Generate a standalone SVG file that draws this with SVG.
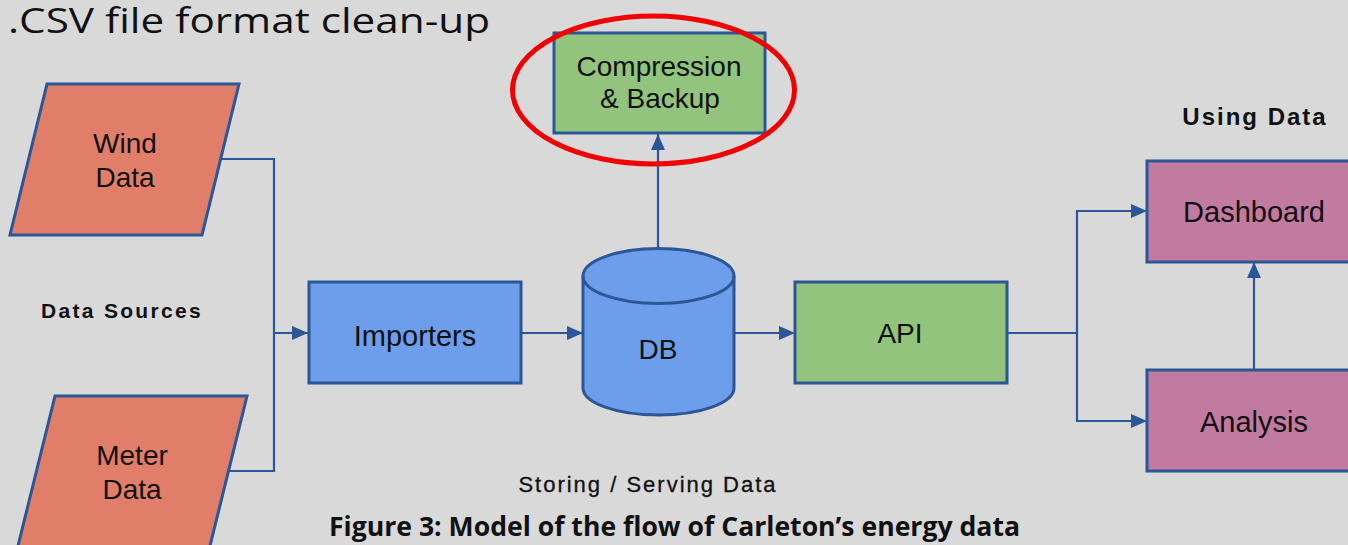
<svg xmlns="http://www.w3.org/2000/svg" width="1348" height="545" viewBox="0 0 1348 545">
<style>
.node{stroke:#2b5797;stroke-width:3}
.src{fill:#e07e6a}
.blue{fill:#6d9eeb}
.green{fill:#93c47d}
.pink{fill:#c27ba0}
.lbl{font-family:"Liberation Sans",Arial,sans-serif;font-size:28px;fill:#111;text-anchor:middle}
.big{font-size:29px}
.sec{font-family:"Liberation Sans",Arial,sans-serif;font-weight:bold;fill:#111;text-anchor:middle}
.conn{fill:none;stroke:#2b5797;stroke-width:2.2}
</style>
<defs>
<marker id="ah" markerWidth="16" markerHeight="14" refX="16" refY="7" orient="auto" markerUnits="userSpaceOnUse">
<path d="M0,0 L16,7 L0,14 z" fill="#2b5797"/>
</marker>
</defs>
<rect width="1348" height="545" fill="#d9d9d9"/>
<text x="8" y="33" font-family="'Open Sans',sans-serif" font-size="35" fill="#111" textLength="482" lengthAdjust="spacingAndGlyphs">.CSV file format clean-up</text>

<g id="connectors">
<polyline class="conn" points="221,159 274,159 274,471 229,471"/>
<line class="conn" x1="274" y1="333" x2="308" y2="333" marker-end="url(#ah)"/>
<line class="conn" x1="521" y1="333" x2="583" y2="333" marker-end="url(#ah)"/>
<line class="conn" x1="658" y1="248" x2="658" y2="134" marker-end="url(#ah)"/>
<line class="conn" x1="734" y1="333" x2="795" y2="333" marker-end="url(#ah)"/>
<polyline class="conn" points="1007,333 1077,333"/>
<polyline class="conn" points="1140,211 1077,211 1077,421 1140,421"/>
<line class="conn" x1="1077" y1="211" x2="1147" y2="211" marker-end="url(#ah)"/>
<line class="conn" x1="1077" y1="421" x2="1147" y2="421" marker-end="url(#ah)"/>
<line class="conn" x1="1254" y1="370" x2="1254" y2="262" marker-end="url(#ah)"/>
</g>

<g id="wind">
<polygon class="node src" points="47,84 239,84 202,235 10,235"/>
<text class="lbl" x="125" y="153">Wind</text>
<text class="lbl" x="125" y="187">Data</text>
</g>
<g id="meter">
<polygon class="node src" points="55,396 247,396 209,550 17,550"/>
<text class="lbl" x="132" y="465">Meter</text>
<text class="lbl" x="132" y="499">Data</text>
</g>
<text class="sec" x="122" y="318" font-size="21" letter-spacing="2.3">Data Sources</text>

<g id="importers">
<rect class="node blue" x="309" y="282" width="212" height="101"/>
<text class="lbl big" x="415" y="346">Importers</text>
</g>
<g id="db">
<path class="node blue" d="M583,276 L583,388 A75.5,27 0 0 0 734,388 L734,276 A75.5,27.5 0 0 0 583,276 Z"/>
<path class="node" fill="none" d="M583,276 A75.5,27.5 0 0 0 734,276"/>
<text class="lbl" x="658" y="359">DB</text>
</g>
<g id="compression">
<rect class="node green" x="554" y="33" width="211" height="100"/>
<text class="lbl" x="659" y="76">Compression</text>
<text class="lbl" x="660" y="108">&amp; Backup</text>
</g>
<ellipse id="highlight" cx="653.5" cy="90" rx="141" ry="74" fill="none" stroke="#f00000" stroke-width="5"/>
<g id="api">
<rect class="node green" x="795" y="282" width="212" height="101"/>
<text class="lbl" x="900" y="343">API</text>
</g>
<g id="dashboard">
<rect class="node pink" x="1147" y="161" width="205" height="101"/>
<text class="lbl big" x="1254" y="222">Dashboard</text>
</g>
<g id="analysis">
<rect class="node pink" x="1147" y="370" width="205" height="101"/>
<text class="lbl big" x="1254" y="432">Analysis</text>
</g>
<text class="sec" x="1255" y="125" font-size="24" letter-spacing="2">Using Data</text>
<text x="648" y="492" font-family="'Liberation Sans',Arial,sans-serif" font-size="22" fill="#111" text-anchor="middle" letter-spacing="2" stroke="#111" stroke-width="0.3">Storing / Serving Data</text>
<text x="329" y="536" font-family="'Open Sans',sans-serif" font-weight="bold" font-size="26" fill="#111" textLength="691" lengthAdjust="spacingAndGlyphs">Figure 3: Model of the flow of Carleton’s energy data</text>
</svg>
